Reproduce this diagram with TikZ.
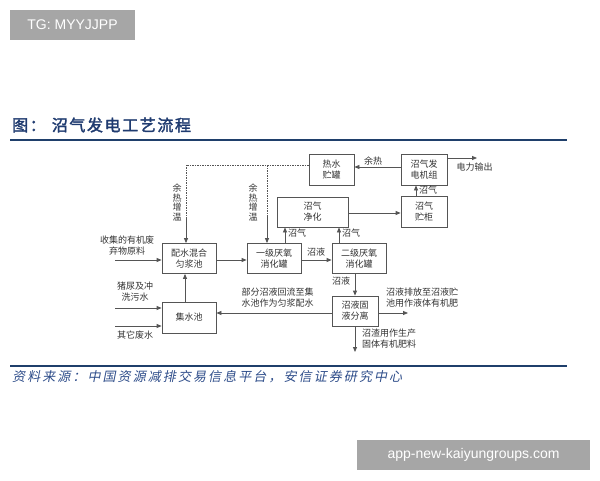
\documentclass[tikz,border=0pt]{standalone}
\usepackage{fontspec}
\setmainfont{Liberation Sans}
\newfontfamily\cjk{Noto Sans CJK SC}
\newfontfamily\cjktitle[FakeBold=2,LetterSpace=10]{Noto Sans CJK SC}
\newfontfamily\cjksrc[FakeSlant=0.2,LetterSpace=16]{Noto Sans CJK SC}
\usetikzlibrary{arrows.meta,calc}
\definecolor{lnc}{HTML}{555555}
\definecolor{txc}{HTML}{333333}
\definecolor{ttl}{HTML}{1F3B70}
\definecolor{rule}{HTML}{1F3F6B}
\definecolor{srcc}{HTML}{2E4D8A}
\definecolor{tag}{HTML}{A6A6A6}
\tikzset{
  box/.style={draw=lnc,line width=0.8pt,inner sep=0pt,align=center,text=txc,font=\cjk\fontsize{9}{11}\selectfont},
  lbl/.style={inner sep=0pt,align=center,text=txc,font=\cjk\fontsize{9}{11}\selectfont},
  arr/.style={draw=lnc,line width=0.8pt,-{Triangle[length=5pt,width=4pt]}},
  ln/.style={draw=lnc,line width=0.8pt},
  dd/.style={draw=lnc,line width=0.7pt,dash pattern=on 2pt off 1.2pt on 0.6pt off 1.2pt},
  tagbox/.style={fill=tag,inner sep=0pt,text=white,font=\fontsize{14}{16}\selectfont}
}
\begin{document}
\begin{tikzpicture}[x=1pt,y=-1pt]
\useasboundingbox (0,0) rectangle (600,480);
\fill[white] (0,0) rectangle (600,480);
% tags
\node[tagbox,minimum width=125pt,minimum height=30pt] (tg) at (72.5,25) {TG: MYYJJPP};
\node[tagbox,minimum width=233pt,minimum height=30pt] (app) at (473.5,455) {app-new-kaiyungroups.com};
% title
\node[anchor=west,inner sep=0pt,text=ttl,font=\cjktitle\fontsize{16}{18}\selectfont] (title) at (12,125) {图：\hspace{6pt}沼气发电工艺流程};
\coordinate (r1a) at (10,140); \coordinate (r1b) at (567,140);
\draw[rule,line width=2.2pt] (r1a) -- (r1b);
\coordinate (r2a) at (10,366); \coordinate (r2b) at (567,366);
\draw[rule,line width=1.4pt] (r2a) -- (r2b);
\node[anchor=west,inner sep=0pt,text=srcc,font=\cjksrc\fontsize{13}{15}\selectfont] (src) at (12,377) {资料来源：中国资源减排交易信息平台，安信证券研究中心};
% boxes
\node[box,minimum width=54pt,minimum height=30pt] (mix) at (189,258.5) {配水混合\\匀浆池};
\node[box,minimum width=54pt,minimum height=30pt] (d1) at (274,258.5) {一级厌氧\\消化罐};
\node[box,minimum width=54pt,minimum height=30pt] (d2) at (359,258.5) {二级厌氧\\消化罐};
\node[box,minimum width=71pt,minimum height=30pt] (pur) at (312.5,212) {沼气\\净化};
\node[box,minimum width=45pt,minimum height=31pt] (hot) at (331.5,169.5) {热水\\贮罐};
\node[box,minimum width=46pt,minimum height=31pt] (gen) at (424,169.5) {沼气发\\电机组};
\node[box,minimum width=46pt,minimum height=31pt] (store) at (424,211.5) {沼气\\贮柜};
\node[box,minimum width=54pt,minimum height=31pt] (pool) at (189,317.5) {集水池};
\node[box,minimum width=46pt,minimum height=30pt] (sep) at (355,311) {沼液固\\液分离};
% inputs
\node[lbl] (t1) at (127,246) {收集的有机废\\弃物原料};
\coordinate (s1) at (115,260);
\draw[arr] (s1) -- (s1 -| mix.west);
\node[lbl] (t2) at (135,292) {猪尿及冲\\洗污水};
\coordinate (s2) at (115,308);
\draw[arr] (s2) -- (s2 -| pool.west);
\node[lbl] (t3) at (135,335) {其它废水};
\coordinate (s3) at (115,326);
\draw[arr] (s3) -- (s3 -| pool.west);
% main flow
\coordinate (m1) at (216,260);
\draw[arr] (m1 -| mix.east) -- (m1 -| d1.west);
\draw[arr] (m1 -| d1.east) -- (m1 -| d2.west);
\node[lbl] (l1) at (316,252) {沼液};
\coordinate (v1) at (285,0);
\draw[arr] (v1 |- d1.north) -- (v1 |- pur.south);
\node[lbl] (l2) at (297,233) {沼气};
\coordinate (v2) at (339,0);
\draw[arr] (v2 |- d2.north) -- (v2 |- pur.south);
\node[lbl] (l3) at (351,233) {沼气};
\coordinate (h1) at (0,213);
\draw[arr] (h1 -| pur.east) -- (h1 -| store.west);
\coordinate (v3) at (416,0);
\draw[arr] (v3 |- store.north) -- (v3 |- gen.south);
\node[lbl] (l4) at (428,190.5) {沼气};
\coordinate (h2) at (0,167);
\draw[arr] (h2 -| gen.west) -- (h2 -| hot.east);
\node[lbl] (l5) at (373,161) {余热};
\coordinate (pw) at (477,158);
\draw[arr] (pw -| gen.east) -- (pw);
\node[lbl] (l6) at (474.5,167.5) {电力输出};
% waste heat (dash-dot)
\coordinate (hA) at (309,165);
\coordinate (hB) at (267,165);
\coordinate (hC) at (186,165);
\coordinate (hB2) at (267,217);
\coordinate (hC2) at (186,217);
\draw[dd] (hA) -- (hC) -- (hC2);
\draw[dd] (hB) -- (hB2);
\draw[arr] (hC2) -- (hC2 |- mix.north);
\draw[arr] (hB2) -- (hB2 |- d1.north);
\node[lbl,text width=9pt] (w1) at (177,202.5) {余\\[-1.5pt]热\\[-1.5pt]增\\[-1.5pt]温};
\node[lbl,text width=9pt] (w2) at (253,202.5) {余\\[-1.5pt]热\\[-1.5pt]增\\[-1.5pt]温};
% separation
\coordinate (v4) at (355,0);
\draw[arr] (v4 |- d2.south) -- (v4 |- sep.north);
\node[lbl] (l7) at (341,281) {沼液};
\coordinate (h3) at (0,313);
\draw[arr] (h3 -| sep.west) -- (h3 -| pool.east);
\node[lbl] (l8) at (277.5,298) {部分沼液回流至集\\水池作为匀浆配水};
\coordinate (o1) at (408,313);
\draw[arr] (o1 -| sep.east) -- (o1);
\node[lbl,anchor=west,align=left] (l9) at (386,298) {沼液排放至沼液贮\\池用作液体有机肥};
\coordinate (o2) at (355,352);
\draw[arr] (sep.south) -- (o2);
\node[lbl,anchor=west,align=left] (l10) at (362,339) {沼渣用作生产\\固体有机肥料};
\coordinate (v5) at (185,0);
\draw[arr] (v5 |- pool.north) -- (v5 |- mix.south);
\end{tikzpicture}
\end{document}
